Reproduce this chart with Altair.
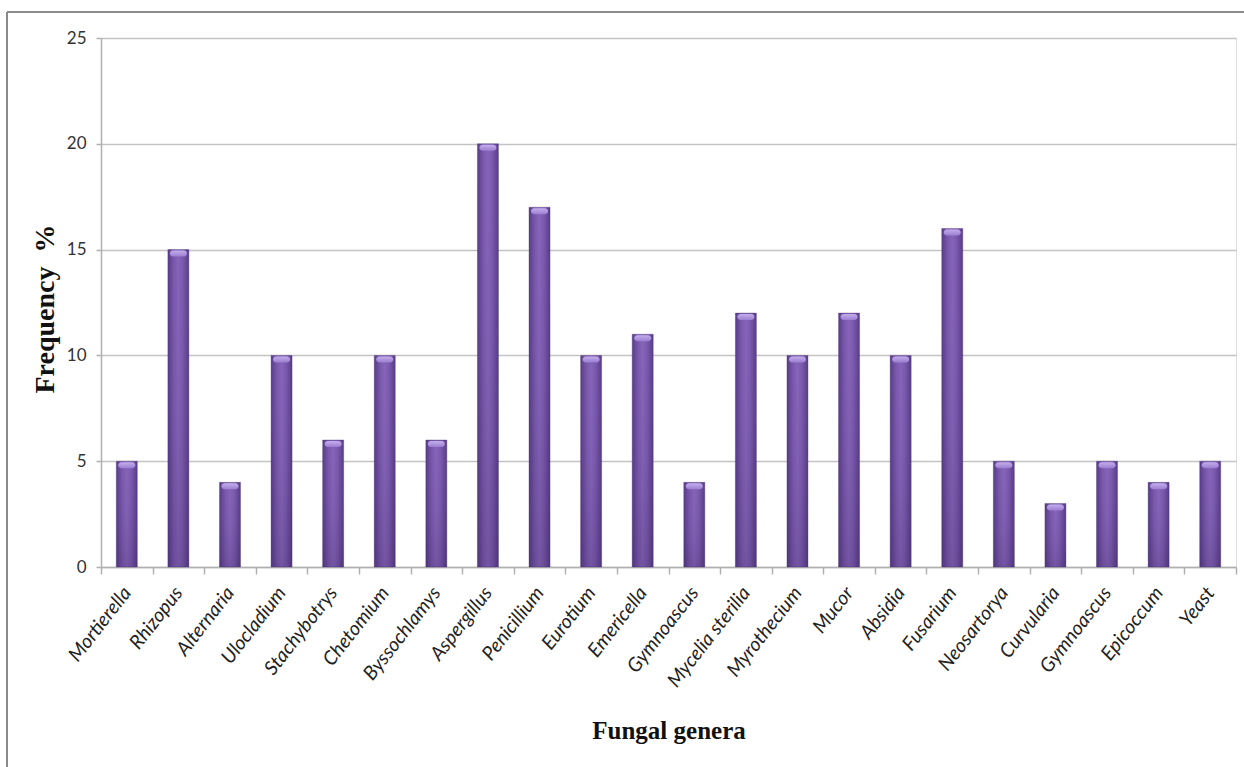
import altair as alt
import pandas as pd

genera = ["Mortierella", "Rhizopus", "Alternaria", "Ulocladium", "Stachybotrys",
          "Chetomium", "Byssochlamys", "Aspergillus", "Penicillium", "Eurotium",
          "Emericella", "Gymnoascus", "Mycelia sterilia", "Myrothecium", "Mucor",
          "Absidia", "Fusarium", "Neosartorya", "Curvularia", "Gymnoascus",
          "Epicoccum", "Yeast"]
frequency = [5, 15, 4, 10, 6, 10, 6, 20, 17, 10, 11, 4, 12, 10, 12, 10, 16, 5, 3, 5, 4, 5]
y_ticks = [0, 5, 10, 15, 20, 25]

keys = [f"{i:02d}|{g}" for i, g in enumerate(genera)]
df = pd.DataFrame({"key": keys, "genus": genera, "freq": frequency})

W, H = 1135, 529

x_enc = alt.X("key:N", sort=None,
              scale=alt.Scale(paddingInner=0, paddingOuter=0),
              axis=alt.Axis(
                  title="Fungal genera",
                  labelExpr="split(datum.label, '|')[1]",
                  labelAngle=-52, labelAlign="right", labelBaseline="middle",
                  labelFont="Lato", labelFontStyle="italic", labelFontSize=19.5,
                  labelColor="#222222", labelPadding=15,
                  tickBand="extent", tickSize=7, tickColor="#b0b0b0", tickWidth=1.5,
                  domainColor="#b0b0b0", domainWidth=1.5,
                  titleFont="Liberation Serif", titleFontSize=25, titleFontWeight="bold",
                  titleColor="#111111", titleBaseline="alphabetic", titleY=171,
                  grid=False))

y_enc = alt.Y("freq:Q",
              scale=alt.Scale(domain=[0, 25], nice=False),
              axis=alt.Axis(
                  title="Frequency\u00a0 %", values=y_ticks,
                  labelFont="Lato", labelFontSize=17, labelColor="#333333",
                  labelPadding=10, tickSize=5, tickColor="#b0b0b0", tickWidth=1.5,
                  domainColor="#b0b0b0", domainWidth=1.5,
                  gridColor="#c4c4c4", gridWidth=1.5,
                  titleFont="Liberation Serif", titleFontSize=28, titleFontWeight="bold",
                  titleColor="#111111", titleX=-56, titleY=H / 2 + 6,
                  titleAlign="center", titleBaseline="middle", titleAngle=-90))

base = alt.Chart(df)

bars = base.mark_bar(
    size=21,
    stroke="#4a3373", strokeWidth=0.6, strokeOpacity=0.6,
    color=alt.Gradient(
        gradient="linear", x1=0, x2=1, y1=0, y2=0,
        stops=[alt.GradientStop(color="#583c88", offset=0),
               alt.GradientStop(color="#7b5aae", offset=0.3),
               alt.GradientStop(color="#8565b9", offset=0.5),
               alt.GradientStop(color="#7b5aae", offset=0.7),
               alt.GradientStop(color="#583c88", offset=1)])
).encode(x=x_enc, y=y_enc)

shade = base.mark_bar(
    size=21,
    color=alt.Gradient(
        gradient="linear", x1=0, x2=0, y1=0, y2=1,
        stops=[alt.GradientStop(color="rgba(120,90,170,0)", offset=0),
               alt.GradientStop(color="rgba(40,20,70,0.2)", offset=1)])
).encode(x=alt.X("key:N", sort=None), y=alt.Y("freq:Q"))

cap = base.mark_tick(
    size=17, thickness=6, opacity=0.95, yOffset=4, cornerRadius=3,
    color=alt.Gradient(
        gradient="linear", x1=0, x2=0, y1=0, y2=1,
        stops=[alt.GradientStop(color="#c8b2f0", offset=0),
               alt.GradientStop(color="#9d7fd2", offset=1)])
).encode(x=alt.X("key:N", sort=None), y=alt.Y("freq:Q"))

frame_left = alt.Chart(df).mark_rule(color="#8a8a8a", strokeWidth=1.5).encode(
    x=alt.value(-94), y=alt.value(-26), y2=alt.value(800))
frame_top = alt.Chart(df).mark_rule(color="#8a8a8a", strokeWidth=1.5).encode(
    x=alt.value(-94), x2=alt.value(1300), y=alt.value(-26))

chart = alt.layer(bars, shade, cap, frame_left, frame_top).properties(
    width=W, height=H,
    autosize=alt.AutoSizeParams(type="none"),
    padding={"left": 101, "top": 38, "right": 8, "bottom": 200},
).configure_view(stroke=None).configure(background="white")

chart.save("out.html", embed_options={"renderer": "svg", "actions": False})
